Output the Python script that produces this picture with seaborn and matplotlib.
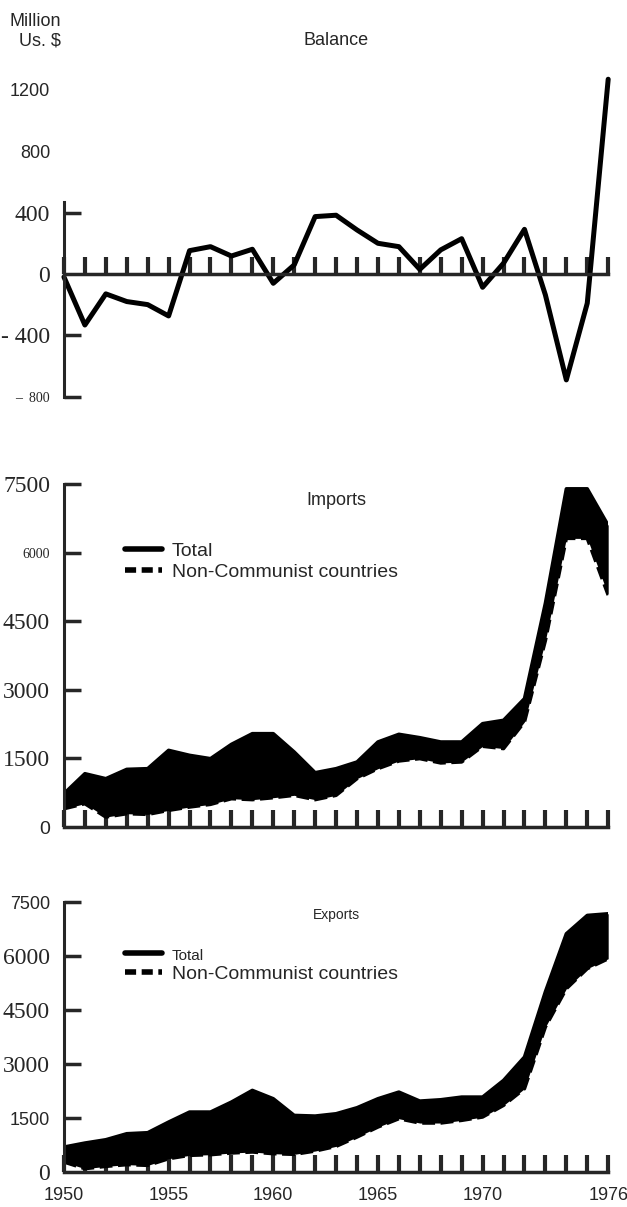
import matplotlib
matplotlib.use('Agg')
import matplotlib.pyplot as plt
from matplotlib.lines import Line2D
import seaborn as sns

years = list(range(1950, 1977))

# Balance, million US $
balance = [-20, -333, -130, -180, -200, -274, 152, 178, 117, 161, -61, 59, 374, 383,
           287, 200, 178, 30, 157, 230, -87, 70, 291, -137, -691, -191, 1270]

# Imports, million US $
imports_total = [730, 1168, 1059, 1263, 1278, 1679, 1570, 1497, 1810, 2044, 2044, 1643, 1190,
                 1278, 1424, 1862, 2030, 1956, 1862, 1862, 2263, 2336, 2810, 4900, 7400, 7400, 6600]
imports_noncom = [401, 511, 219, 292, 277, 365, 438, 496, 620, 599, 642, 694, 599,
                  694, 1059, 1278, 1445, 1497, 1402, 1424, 1767, 1716, 2300, 4080, 6315, 6315, 5074]

# Exports, million US $
exports_total = [694, 806, 898, 1065, 1093, 1389, 1667, 1667, 1944, 2269, 2037, 1574, 1556,
                 1620, 1787, 2037, 2222, 1972, 2009, 2083, 2083, 2546, 3195, 5010, 6620, 7130, 7176]
exports_noncom = [278, 93, 157, 204, 185, 370, 463, 481, 528, 556, 509, 491, 583,
                  713, 972, 1250, 1481, 1361, 1361, 1435, 1528, 1852, 2315, 4030, 5093, 5650, 5926]

balance_ticks = [-800, -400, 0, 400, 800, 1200]
balance_labels = ['–  800', '- 400', '0', '400', '800', '1200']
trade_ticks = [0, 1500, 3000, 4500, 6000, 7500]
trade_labels = ['0', '1500', '3000', '4500', '6000', '7500']
year_labels = ['1950', '1955', '1960', '1965', '1970', '1976']

sns.set_style('ticks')
plt.rcParams['font.family'] = ['Liberation Sans', 'DejaVu Sans']

SERIF = ['Liberation Serif', 'DejaVu Serif']
SANS = ['Liberation Sans', 'DejaVu Sans']


def style_axes(ax, ylim, tick_fonts):
    ax.set_xlim(1950, 1976)
    ax.set_ylim(*ylim)
    for side in ['top', 'right']:
        ax.spines[side].set_visible(False)
    ax.spines['bottom'].set_position(('data', 0))
    ax.spines['bottom'].set_linewidth(2.5)
    ax.spines['left'].set_linewidth(2.2)
    ax.set_xticks(years)
    ax.tick_params(axis='x', direction='in', length=12, width=3, pad=11, labelsize=13)
    ax.tick_params(axis='y', direction='in', length=12, width=2.5, pad=10)
    for lab, (fam, size) in zip(ax.get_yticklabels(), tick_fonts):
        lab.set_fontfamily(fam)
        lab.set_fontsize(size)
    ax.set_xlabel('')
    ax.set_ylabel('')


fig = plt.figure(figsize=(6.27, 12.07), dpi=100)

# Balance
ax1 = fig.add_axes([0.102, 0.6676, 0.868, 0.2693])
sns.lineplot(x=years, y=balance, ax=ax1, color='black', lw=3.6, clip_on=False)
ax1.set_yticks(balance_ticks, balance_labels)
style_axes(ax1, (-830, 1290),
           [(SERIF, 10), (SERIF, 17), (SERIF, 17), (SERIF, 17), (SANS, 13), (SANS, 13)])
ax1.spines['left'].set_bounds(-800, 470)
for t, v in zip(ax1.yaxis.get_major_ticks(), balance_ticks):
    if v in (0, 800, 1200):
        t.tick1line.set_visible(False)
ax1.set_xticklabels([])
ax1.text(0.5, 1.11, 'Balance', transform=ax1.transAxes, ha='center', va='center', fontsize=13)
fig.text(0.015, 0.982, 'Million', fontsize=13, ha='left', va='center')
fig.text(0.03, 0.966, 'Us. $', fontsize=13, ha='left', va='center')


def trade_panel(ax, total, noncom, title, title_size, tick_fonts, legend_fonts, legend_y):
    ax.fill_between(years, noncom, total, color='black', lw=0)
    sns.lineplot(x=years, y=total, ax=ax, color='black', lw=2.5)
    sns.lineplot(x=years, y=noncom, ax=ax, color='black', lw=2.5, linestyle='--')
    ax.set_yticks(trade_ticks, trade_labels)
    style_axes(ax, (-100, 7700), tick_fonts)
    ax.spines['left'].set_bounds(0, 7500)
    ax.yaxis.get_major_ticks()[0].tick1line.set_visible(False)
    ax.text(0.5, 0.93, title, transform=ax.transAxes, ha='center', va='center',
            fontsize=title_size)
    handles = [Line2D([], [], color='black', lw=4, solid_capstyle='round'),
               Line2D([], [], color='black', lw=4, linestyle=(0, (2, 1)))]
    leg = ax.legend(handles, ['Total', 'Non-Communist countries'], loc='upper left',
                    bbox_to_anchor=(0.08, legend_y), frameon=False, handlelength=1.9,
                    handletextpad=0.5, labelspacing=0.15, fontsize=14)
    for txt, size in zip(leg.get_texts(), legend_fonts):
        txt.set_fontsize(size)


# Imports
ax2 = fig.add_axes([0.102, 0.311, 0.868, 0.2954])
trade_panel(ax2, imports_total, imports_noncom, 'Imports', 13,
            [(SANS, 14), (SERIF, 17), (SERIF, 17), (SERIF, 17), (SERIF, 10), (SERIF, 17)],
            [14, 14], 0.86)
ax2.set_xticklabels([])

# Exports
ax3 = fig.add_axes([0.102, 0.026, 0.868, 0.2326])
trade_panel(ax3, exports_total, exports_noncom, 'Exports', 10,
            [(SERIF, 17), (SANS, 13), (SERIF, 17), (SERIF, 17), (SERIF, 17), (SANS, 13)],
            [11, 14], 0.88)
ax3.set_xticklabels([y if str(y) in year_labels else '' for y in years])

fig.savefig('out.png', dpi=100)
